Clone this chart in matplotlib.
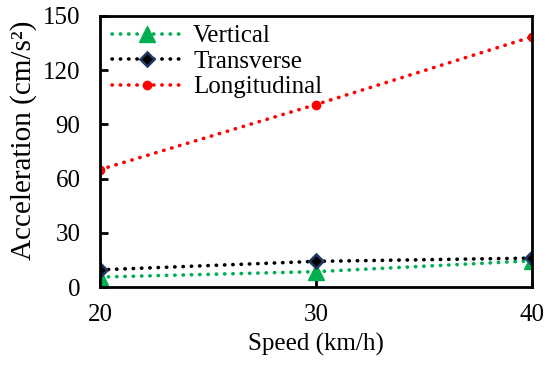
import matplotlib
matplotlib.use("Agg")
import matplotlib.pyplot as plt

speed = [20, 30, 40]
vertical = [5.5, 8.5, 14.5]
transverse = [9.5, 14.2, 16.0]
longitudinal = [65.0, 101.0, 138.5]

plt.rcParams['font.family'] = ['Liberation Serif', 'DejaVu Serif']
FS = 18
DOTS = (0.1, 2.2)

fig = plt.figure(figsize=(5.5, 3.66), dpi=100)
ax = fig.add_axes([100/550, 1-287/366, 432/550, 271/366])

ax.plot(speed, vertical, color='#00B050', linewidth=2.6, dashes=DOTS,
        dash_capstyle='round', marker='^', markersize=11,
        markerfacecolor='#00B050', markeredgecolor='#00B050', label='Vertical')
ax.plot(speed, transverse, color='black', linewidth=2.6, dashes=DOTS,
        dash_capstyle='round', marker='D', markersize=7,
        markerfacecolor='black', markeredgecolor='#1F3864',
        markeredgewidth=1.8, label='Transverse')
ax.plot(speed, longitudinal, color='#FF0000', linewidth=2.6, dashes=DOTS,
        dash_capstyle='round', marker='o', markersize=6,
        markerfacecolor='#FF0000', markeredgecolor='#FF0000', label='Longitudinal')

ax.set_xlim(20, 40)
ax.set_ylim(0, 150)
ax.set_xticks([20, 30, 40])
ax.set_yticks([0, 30, 60, 90, 120, 150])
ax.tick_params(direction='in', length=6, width=2, labelsize=18)
ax.tick_params(axis='x', pad=12)
ax.tick_params(axis='y', pad=14)
for s in ax.spines.values():
    s.set_linewidth(2)
ax.set_xlabel('Speed (km/h)', fontsize=FS, labelpad=5)
ax.set_ylabel('Acceleration (cm/s²)', fontsize=21)
ax.yaxis.set_label_coords(-0.145, 0.542)

ax.legend(loc='upper left', bbox_to_anchor=(0.016, 0.986), frameon=False,
          fontsize=FS, handlelength=2.8, borderaxespad=0, labelspacing=0.12,
          handletextpad=0.45, borderpad=0.2)

fig.savefig('out.png', dpi=100)
